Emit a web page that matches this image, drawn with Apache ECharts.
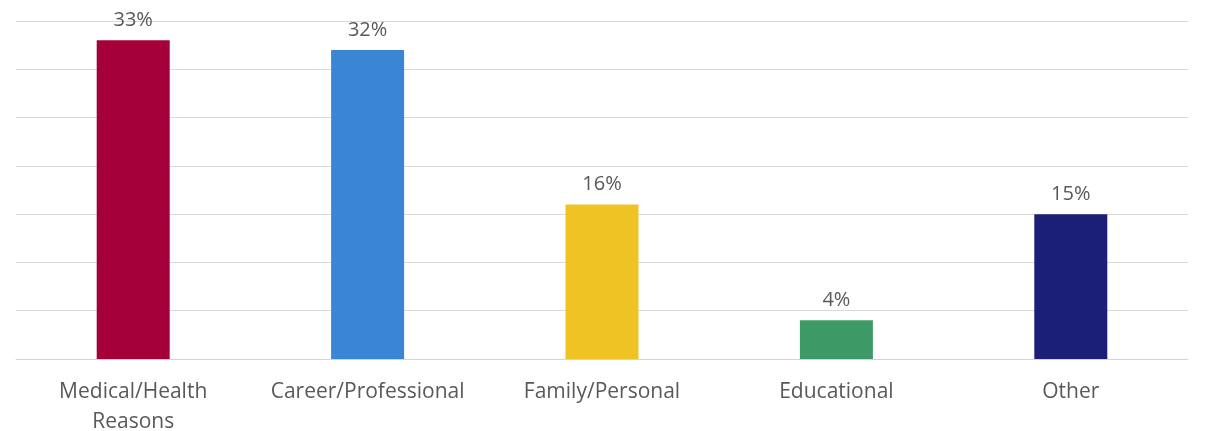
<!DOCTYPE html>
<html>
<head>
<meta charset="utf-8">
<style>
  html, body { margin: 0; padding: 0; background: #ffffff; }
  #chart { width: 1205px; height: 431px; }
</style>
<script src="https://cdn.jsdelivr.net/npm/echarts@6/dist/echarts.min.js"></script>
</head>
<body>
<div id="chart"></div>
<script>
// Reasons for leaving, share of respondents (%)
const categories = ['Medical/Health\nReasons', 'Career/Professional', 'Family/Personal', 'Educational', 'Other'];
const shares = [33, 32, 16, 4, 15];
const barColors = ['#A5003A', '#3A86D4', '#F0C325', '#3D9A67', '#1B1F78'];

const chart = echarts.init(document.getElementById('chart'));
chart.setOption({
  animation: false,
  grid: { left: 16, right: 17, top: 21, bottom: 72, outerBoundsMode: 'none', containLabel: false },
  xAxis: {
    type: 'category',
    data: categories,
    axisLine: { show: true, lineStyle: { color: '#d4d4d4', width: 1 } },
    axisTick: { show: false },
    axisLabel: {
      color: '#595959',
      fontFamily: 'Open Sans',
      fontSize: 21,
      lineHeight: 30,
      margin: 18,
      interval: 0
    }
  },
  yAxis: {
    type: 'value',
    min: 0,
    max: 35,
    interval: 5,
    axisLabel: { show: false },
    axisLine: { show: false },
    axisTick: { show: false },
    splitLine: { lineStyle: { color: '#d9d9d9', width: 1 } }
  },
  series: [{
    type: 'bar',
    barWidth: 73,
    data: shares.map((v, i) => ({ value: v, itemStyle: { color: barColors[i] } })),
    label: {
      show: true,
      position: 'top',
      distance: 10,
      formatter: p => p.value + '%',
      color: '#595959',
      fontFamily: 'Open Sans',
      fontSize: 20
    }
  }]
});
</script>
</body>
</html>
